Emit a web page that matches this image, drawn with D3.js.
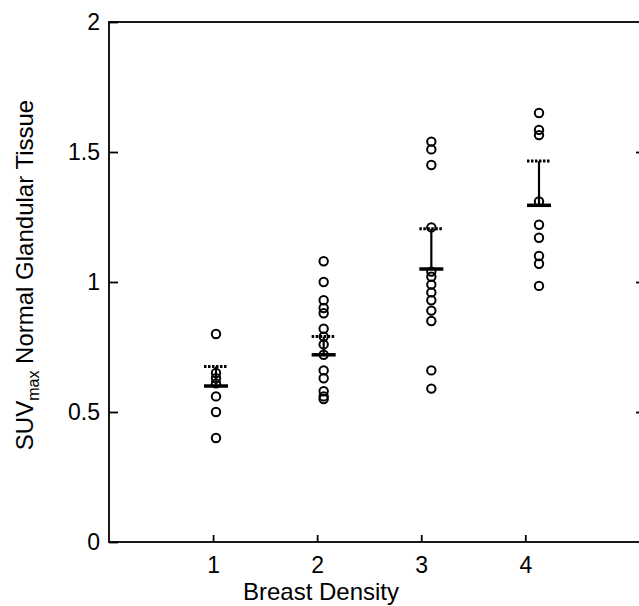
<!DOCTYPE html>
<html><head><meta charset="utf-8">
<script src="https://cdn.jsdelivr.net/npm/d3@7"></script>
<style>body{margin:0;background:#fff}svg{display:block;font-family:Arial,"Liberation Sans",sans-serif}</style>
</head><body><svg id="c" width="639" height="606"></svg>
<script>
const categories = [1, 2, 3, 4];
const density1 = [0.80, 0.65, 0.63, 0.61, 0.56, 0.50, 0.40];
const density2 = [1.08, 1.00, 0.93, 0.90, 0.88, 0.82, 0.79, 0.76, 0.72, 0.66, 0.63, 0.58, 0.56, 0.55];
const density3 = [1.54, 1.51, 1.45, 1.21, 1.04, 1.02, 0.99, 0.96, 0.93, 0.89, 0.85, 0.66, 0.59];
const density4 = [1.65, 1.585, 1.565, 1.31, 1.22, 1.17, 1.10, 1.07, 0.985];
const means = [0.60, 0.72, 1.05, 1.295];
const upperErr = [0.675, 0.79, 1.205, 1.465];
const yTicks = [0, 0.5, 1, 1.5, 2];
const yTickLabels = ["0", "0.5", "1", "1.5", "2"];
const groups = [density1, density2, density3, density4];

const svg = d3.select("#c");
const x = d3.scaleLinear().domain([0, 5.15]).range([109, 645]);
const xp = d3.scaleLinear().domain([1, 4]).range([216, 539]);
const y = d3.scaleLinear().domain([0, 2]).range([542, 22]);

// frame
svg.append("rect").attr("x", x(0)).attr("y", y(2)).attr("width", x(5.15) - x(0)).attr("height", y(0) - y(2))
  .attr("fill", "none").attr("stroke", "#000").attr("stroke-width", 1.8);

// y axis ticks (inside, left and right)
const yAx = d3.axisLeft(y).tickValues(yTicks).tickFormat((d, i) => yTickLabels[i]).tickSizeInner(-9).tickSizeOuter(0).tickPadding(9);
const gy = svg.append("g").attr("transform", `translate(${x(0)},0)`).call(yAx);
gy.select(".domain").remove();
gy.selectAll("line").attr("stroke-width", 1.8);
gy.selectAll("text").style("font-size", "23px").style("font-family", "Arial, 'Liberation Sans', sans-serif").attr("fill", "#000");
const gyr = svg.append("g").attr("transform", `translate(${x(5.15)},0)`).call(d3.axisRight(y).tickValues([0.5, 1, 1.5]).tickSizeInner(-9).tickSizeOuter(0).tickFormat(""));
gyr.select(".domain").remove();
gyr.selectAll("line").attr("stroke-width", 1.8);

// x axis
const xAx = d3.axisBottom(x).tickValues(categories).tickFormat(d3.format("d")).tickSizeInner(-7).tickSizeOuter(0).tickPadding(15);
const gx = svg.append("g").attr("transform", `translate(0,${y(0)})`).call(xAx);
gx.select(".domain").remove();
gx.selectAll("line").attr("stroke-width", 1.8);
gx.selectAll("text").style("font-size", "23px").style("font-family", "Arial, 'Liberation Sans', sans-serif").attr("fill", "#000");

// points
groups.forEach((vals, i) => {
  svg.append("g").selectAll("circle").data(vals).join("circle")
    .attr("cx", xp(categories[i])).attr("cy", d => y(d)).attr("r", 4.2)
    .attr("fill", "none").attr("stroke", "#000").attr("stroke-width", 2);
});

// mean and error bars
const half = 12;
categories.forEach((c, i) => {
  const cx = xp(c);
  svg.append("line").attr("x1", cx).attr("x2", cx).attr("y1", y(means[i])).attr("y2", y(upperErr[i]))
    .attr("stroke", "#000").attr("stroke-width", 2.2);
  svg.append("line").attr("x1", cx - half).attr("x2", cx + half).attr("y1", y(means[i])).attr("y2", y(means[i]))
    .attr("stroke", "#000").attr("stroke-width", 3.5);
  svg.append("line").attr("x1", cx - half).attr("x2", cx + half).attr("y1", y(upperErr[i])).attr("y2", y(upperErr[i]))
    .attr("stroke", "#000").attr("stroke-width", 3).attr("stroke-dasharray", "2.5,1.5");
});

// axis titles
svg.append("text").attr("x", 321).attr("y", 600).attr("text-anchor", "middle").style("font-size", "24px").text("Breast Density");
const yt = svg.append("text").attr("transform", "translate(33,275) rotate(-90)").attr("text-anchor", "middle").style("font-size", "24px");
yt.append("tspan").text("SUV");
yt.append("tspan").style("font-size", "16px").attr("dy", 6).text("max");
yt.append("tspan").attr("dy", -6).text(" Normal Glandular Tissue");
</script></body></html>
